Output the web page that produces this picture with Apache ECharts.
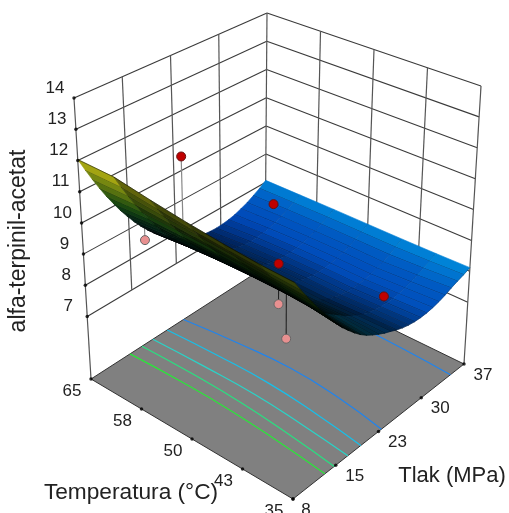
<!DOCTYPE html>
<html><head><meta charset="utf-8">
<style>html,body{margin:0;padding:0;background:#fff}#c{width:509px;height:513px}</style>
<script src="https://cdn.jsdelivr.net/npm/echarts@6/dist/echarts.min.js"></script>
</head><body><div id="c"></div>
<script>
const zTitle='alfa-terpinil-acetat', tTitle='Temperatura (°C)', pTitle='Tlak (MPa)';
const tempTicks=[65,57.5,50,42.5,35], tempLabels=['65','58','50','43','35'];
const presTicks=[8,15.25,22.5,29.75,37], presLabels=['8','15','23','30','37'];
const zTicks=[7,8,9,10,11,12,13,14];
const tempGrid=[35,40,45,50,55,60,65];
const presGrid=[8,9,10,11,12,13,14,15,16,17,18,19,20,21,22,23,24,25,26,27,28,29,30,31,32,33,34,35,36,37];
const z35=[11.35,11.02,10.70,10.40,10.09,9.81,9.54,9.27,9.03,8.82,8.62,8.44,8.29,8.17,8.06,7.96,7.88,7.79,7.72,7.67,7.64,7.63,7.64,7.67,7.72,7.79,7.88,7.96,8.03,8.12];
const z40=[11.40,11.09,10.79,10.50,10.22,9.94,9.68,9.43,9.19,8.95,8.75,8.56,8.40,8.25,8.10,7.97,7.86,7.76,7.69,7.64,7.60,7.59,7.59,7.61,7.66,7.72,7.80,7.89,7.98,8.10];
const z45=[11.50,11.18,10.89,10.59,10.31,10.03,9.76,9.51,9.27,9.03,8.80,8.59,8.39,8.22,8.07,7.93,7.82,7.72,7.65,7.59,7.56,7.54,7.54,7.56,7.60,7.66,7.73,7.84,7.95,8.09];
const z50=[11.63,11.29,10.98,10.66,10.37,10.07,9.80,9.54,9.29,9.05,8.82,8.61,8.41,8.24,8.09,7.95,7.84,7.74,7.67,7.61,7.57,7.55,7.55,7.57,7.61,7.67,7.74,7.84,7.95,8.09];
const z55=[11.80,11.43,11.08,10.74,10.43,10.10,9.81,9.55,9.29,9.04,8.81,8.60,8.40,8.23,8.08,7.94,7.83,7.73,7.66,7.60,7.56,7.54,7.54,7.56,7.60,7.66,7.73,7.84,7.95,8.09];
const z60=[12.00,11.59,11.20,10.82,10.47,10.13,9.82,9.53,9.25,9.00,8.76,8.55,8.35,8.18,8.02,7.89,7.77,7.68,7.60,7.55,7.51,7.49,7.50,7.52,7.56,7.63,7.71,7.82,7.93,8.08];
const z65=[12.03,11.60,11.19,10.80,10.43,10.09,9.76,9.46,9.17,8.91,8.67,8.45,8.25,8.07,7.91,7.78,7.66,7.57,7.49,7.44,7.41,7.40,7.41,7.44,7.49,7.57,7.66,7.78,7.91,8.07];
const surface=[z35,z40,z45,z50,z55,z60,z65];
// measured points [temperature, pressure, response, response of surface below/above]
const redPoints=[[50.5,8,13.6,11.65],[57.5,30,8.9,7.55],[50,22.5,8.65,8],[41,29.7,7.6,7.55]];
const pinkPoints=[[62.5,15,8.95,9.5],[50,22.5,7.35,8],[42.5,15.3,8.0,9.55]];
// floor contours read as [temperature, pressure]
const contour1=[[65,23.4],[57.5,24.2],[50,24.6],[42.5,24.1],[35,23]];
const contour1b=[[35,34.7],[42,35],[50,35.2]];
const contour2=[[65,20.7],[57.5,21],[50,21],[42.5,20.4],[35,19.5]];
const contour3=[[65,18.3],[57.5,18.5],[50,18.5],[42.5,18],[35,17.3]];
const contour4=[[65,16.5],[57.5,16.6],[50,16.4],[42.5,15.8],[35,15]];
const contour5=[[65,14.5],[57.5,14.7],[50,14.6],[42.5,14.1],[35,13.4]];

// view: screen position of the box corners (L=65/8, F=35/8, B=65/37, R=35/37)
const floorQ={L:[91,379],F:[293,499],B:[265,267],R:[464,364]}, topQ={L:[74,98],F:[295,192],B:[267,13],R:[481,86]};
const zLow=5,zHigh=14;
function project(T,P,Z){
  const ft=(65-T)/30, fp=(P-8)/29, fz=(Z-zLow)/(zHigh-zLow);
  const q=(Q,k)=>Q.L[k]*(1-ft)*(1-fp)+Q.F[k]*ft*(1-fp)+Q.B[k]*(1-ft)*fp+Q.R[k]*ft*fp;
  return [0,1].map(k=>q(floorQ,k)*(1-fz)+q(topQ,k)*fz);
}
const stops=[[7.4,[0,70,190]],[7.8,[0,95,205]],[8.1,[0,145,230]],[8.7,[0,185,200]],[9.4,[20,185,110]],[10.2,[60,185,40]],[11,[140,185,25]],[12,[215,205,20]]];
function colorAt(z,dark){
  let c=stops[stops.length-1][1];
  for(let i=0;i<stops.length-1;i++){const a=stops[i],b=stops[i+1];
    if(z<=a[0]){c=a[1];break;}
    if(z<=b[0]){const f=(z-a[0])/(b[0]-a[0]);c=a[1].map((v,k)=>v+(b[1][k]-v)*f);break;}}
  return 'rgb('+c.map(v=>Math.round(v*dark)).join(',')+')';
}
const cells=[];
for(let j=presGrid.length-2;j>=0;j--)for(let i=tempGrid.length-2;i>=0;i--)cells.push([i,j]);
const line=(pts,color,width,z,smooth)=>({type:'line',data:pts,showSymbol:false,silent:true,smooth:!!smooth,z:z,animation:false,clip:false,lineStyle:{color:color,width:width}});
const series=[];
// walls
zTicks.forEach(z=>{series.push(line([project(65,8,z),project(65,37,z)],'#3a3a3a',1.1,1));series.push(line([project(65,37,z),project(35,37,z)],'#3a3a3a',1.1,1));});
presTicks.slice(1,4).forEach(p=>series.push(line([project(65,p,7),project(65,p,14)],'#555',1.2,1)));
tempTicks.slice(1,4).forEach(t=>series.push(line([project(t,37,7),project(t,37,14)],'#555',1.2,1)));
[[65,8],[65,37],[35,37]].forEach(c=>series.push(line([project(c[0],c[1],zLow),project(c[0],c[1],14)],'#555',1.2,1)));
// floor
series.push({type:'custom',silent:true,z:2,animation:false,clip:false,data:[[0]],renderItem:(p,api)=>({type:'polygon',
  shape:{points:[[65,8],[35,8],[35,37],[65,37]].map(c=>api.coord(project(c[0],c[1],zLow)))},style:{fill:'#808080',stroke:'#333',lineWidth:1}})});
[[contour1,'#1f84ee'],[contour1b,'#1f84ee'],[contour2,'#16c0ea'],[contour3,'#28d4c8'],[contour4,'#28e080'],[contour5,'#28e838']].forEach(c=>
  series.push(line(c[0].map(q=>project(q[0],q[1],zLow)),c[1],1.2,3,true)));
// stems
redPoints.forEach(r=>series.push(line([project(r[0],r[1],r[2]),project(r[0],r[1],r[3])],'#888',1.2,4)));
pinkPoints.forEach(r=>series.push(line([project(r[0],r[1],r[2]),project(r[0],r[1],r[3])],r[0]>60?'#888':'#222',1.1,4)));
series.push({type:'scatter',z:5,silent:true,animation:false,data:pinkPoints.map(r=>project(r[0],r[1],r[2])),symbolSize:9,itemStyle:{color:'#e89090',borderColor:'#666',borderWidth:1,opacity:1}});
// surface
series.push({type:'custom',silent:true,z:6,animation:false,clip:false,data:cells,renderItem:(p,api)=>{
  const i=api.value(0),j=api.value(1);
  const t0=tempGrid[i],t1=tempGrid[i+1],p0=presGrid[j],p1=presGrid[j+1];
  const a=project(t0,p0,surface[i][j]),b=project(t1,p0,surface[i+1][j]),c=project(t1,p1,surface[i+1][j+1]),d=project(t0,p1,surface[i][j+1]);
  const cross=(c[0]-a[0])*(d[1]-b[1])-(c[1]-a[1])*(d[0]-b[0]);
  const t=Math.min(1,Math.abs(cross)/2/260);
  const dark=0.02+0.93*Math.pow(t,1.6);
  const zm=(surface[i][j]+surface[i+1][j]+surface[i][j+1]+surface[i+1][j+1])/4;
  const col=colorAt(zm,dark);
  const A=api.coord(a),B=api.coord(b),D=api.coord(d);
  return {type:'group',children:[
    {type:'polygon',shape:{points:[a,b,c,d].map(q=>api.coord(q))},style:{fill:col,stroke:col,lineWidth:.6}},
    {type:'line',shape:{x1:A[0],y1:A[1],x2:D[0],y2:D[1]},style:{stroke:'rgba(0,0,0,.4)',lineWidth:.6}},
    {type:'line',shape:{x1:A[0],y1:A[1],x2:B[0],y2:B[1]},style:{stroke:'rgba(0,0,0,.65)',lineWidth:.8}}]};
}});
series.push({type:'scatter',z:7,silent:true,animation:false,data:redPoints.map(r=>project(r[0],r[1],r[2])),symbolSize:9,itemStyle:{color:'#c00000',borderColor:'#611',borderWidth:1,opacity:1}});
// tick dots
const tickDots=[...tempTicks.map(t=>project(t,8,zLow)),...presTicks.map(p=>project(35,p,zLow)),...zTicks.map(z=>project(65,8,z))];
series.push({type:'scatter',z:8,silent:true,animation:false,data:tickDots,symbol:'circle',symbolSize:3.5,itemStyle:{color:'#000'}});
// tick labels
const tickText=[];
tempTicks.forEach((t,i)=>{const q=project(t,8,zLow);tickText.push([q[0]-19,q[1]+12,tempLabels[i]]);});
presTicks.forEach((v,i)=>{const q=project(35,v,zLow);tickText.push(i?[q[0]+19,q[1]+11,presLabels[i]]:[q[0]+13,q[1]+11,presLabels[i]]);});
zTicks.forEach(z=>{const q=project(65,8,z);tickText.push([q[0]-19,q[1]-10,String(z)]);});
series.push({type:'custom',silent:true,z:9,animation:false,clip:false,data:tickText,renderItem:(p,api)=>{
  const q=api.coord([api.value(0),api.value(1)]);
  return {type:'text',x:q[0],y:q[1],style:{text:tickText[p.dataIndex][2],fill:'#222',font:'17px "Liberation Sans"',textAlign:'center',textVerticalAlign:'middle'}};
}});
const chart=echarts.init(document.getElementById('c'),null,{renderer:'canvas'});
chart.setOption({animation:false,backgroundColor:'#fff',
  grid:{left:0,top:0,right:0,bottom:0},
  xAxis:{type:'value',min:0,max:509,show:false},
  yAxis:{type:'value',min:0,max:513,inverse:true,show:false},
  graphic:[
    {type:'text',z:20,x:19,y:241,rotation:Math.PI/2,style:{text:zTitle,fill:'#222',font:'23px "Liberation Sans"',textAlign:'center',textVerticalAlign:'middle'}},
    {type:'text',z:20,x:131,y:493,style:{text:tTitle,fill:'#222',font:'22.7px "Liberation Sans"',textAlign:'center',textVerticalAlign:'middle'}},
    {type:'text',z:20,x:452,y:476,style:{text:pTitle,fill:'#222',font:'22px "Liberation Sans"',textAlign:'center',textVerticalAlign:'middle'}}],
  series:series});
</script></body></html>
